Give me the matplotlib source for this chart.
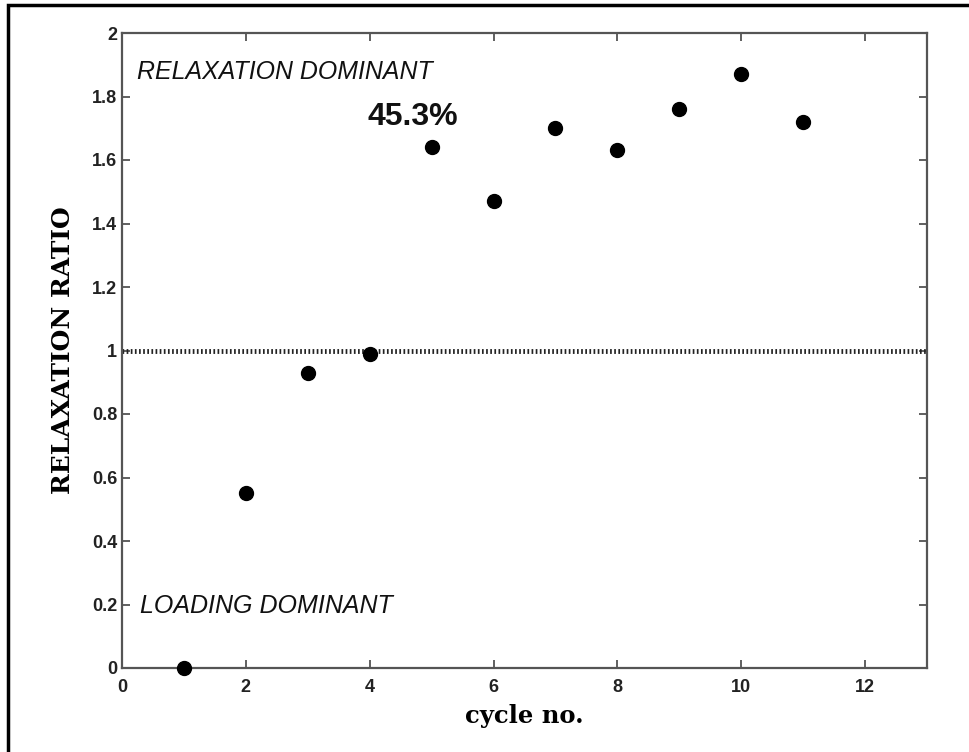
import matplotlib
matplotlib.use('Agg')
import matplotlib.pyplot as plt
from matplotlib.patches import Rectangle

cycles = [1, 2, 3, 4, 5, 6, 7, 8, 9, 10, 11]
ratio = [0.0, 0.55, 0.93, 0.99, 1.64, 1.47, 1.70, 1.63, 1.76, 1.87, 1.72]
xticks = [0, 2, 4, 6, 8, 10, 12]
yticks = [0, 0.2, 0.4, 0.6, 0.8, 1, 1.2, 1.4, 1.6, 1.8, 2]
ytick_labels = ['0', '0.2', '0.4', '0.6', '0.8', '1', '1.2', '1.4', '1.6', '1.8', '2']

plt.rcParams['font.family'] = ['Liberation Sans', 'DejaVu Sans']

fig = plt.figure(figsize=(9.69, 7.52), dpi=100)
ax = fig.add_axes([122/969, 1 - 668/752, 805/969, 635/752])

# outer frame of the figure
fig.patches.append(Rectangle((8/969, -0.1), 1.2, (752 - 5)/752 + 0.1, transform=fig.transFigure,
                             fill=False, edgecolor='black', linewidth=2.5))

ax.axhline(1, color='#222222', linewidth=3.5, linestyle=(0, (0.35, 0.5)))
ax.plot(cycles, ratio, 'o', color='black', markersize=10, clip_on=False, zorder=5)

ax.set_xlim(0, 13)
ax.set_ylim(0, 2)
ax.set_xticks(xticks)
ax.set_yticks(yticks)
ax.set_yticklabels(ytick_labels)
ax.tick_params(direction='in', top=True, right=True, length=6, width=1.2,
               color='#444444', labelsize=13)
ax.tick_params(axis='x', pad=8)
for lbl in ax.get_xticklabels() + ax.get_yticklabels():
    lbl.set_fontweight('bold')
    lbl.set_color('#222222')
for s in ax.spines.values():
    s.set_linewidth(1.6)
    s.set_color('#555555')

ax.set_xlabel('cycle no.', fontsize=17.5, fontweight='bold', family='DejaVu Serif', labelpad=6)
ax.set_ylabel('RELAXATION RATIO', fontsize=18, fontweight='bold', family='DejaVu Serif', labelpad=12)

ax.text(0.24, 1.877, 'RELAXATION DOMINANT', fontsize=17.9, style='italic', va='center', ha='left', color='#111111')
ax.text(3.97, 1.735, '45.3%', fontsize=23, fontweight='bold', va='center', ha='left', color='#111111')
ax.text(0.29, 0.195, 'LOADING DOMINANT', fontsize=18, style='italic', va='center', ha='left', color='#111111')

fig.savefig('out.png', dpi=100)
